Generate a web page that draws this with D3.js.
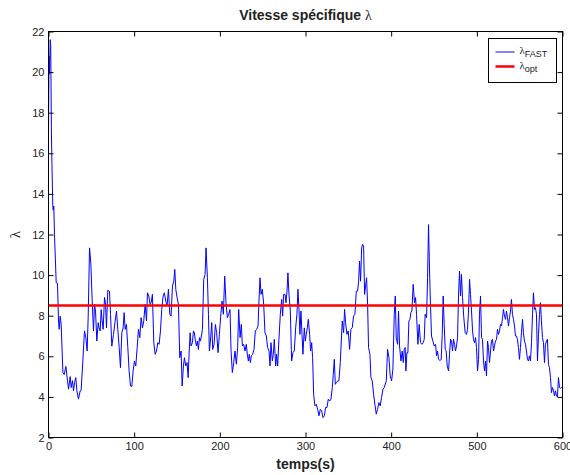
<!DOCTYPE html>
<html>
<head>
<meta charset="utf-8">
<script src="https://cdn.jsdelivr.net/npm/d3@7"></script>
<style>
  body { margin: 0; background: #fff; }
  text { font-family: "Liberation Sans", Arial, sans-serif; }
  .sym { font-family: "Liberation Serif", "DejaVu Serif", serif; }
</style>
</head>
<body>
<div id="chart"></div>
<script>
// temps (s) and lambda
const tFast = [0,0.6,1.2,2,2.6,3.4,4,5,5.5,6.2,7,8,9,10.5,11.7,12.5,13.6,14.8,16.8,18.3,20.3,22.2,23.4,25.3,26.5,28,29.2,30.4,31.9,33.1,35,37,38.1,40.1,42,43.6,45.1,46.3,47.9,49.4,51,52.5,53.7,54.9,56.4,58,59.1,60.3,61.5,62.6,63.8,65.4,66.5,67.7,69.2,71.2,72.4,73.9,75.9,77.8,79.4,80.9,82.5,84,85.6,87.1,88.3,89.5,91,92.6,94.1,95.7,97.2,98.8,100.3,101.9,103.5,105,106.6,108.1,109.7,111.2,112.8,114.4,115.5,117.1,118.6,119.8,121.3,122.9,124.5,126,127.6,129.1,130.7,132.2,133.8,135.3,136.9,138.4,140,141.6,143.1,144.7,146.2,147.4,148.6,150.1,151.7,153.2,154.8,156,157.5,158.7,160.2,161.8,163,164.1,165.3,166.4,168,169.2,170.3,171.5,172.7,173.8,175,176.2,177.3,178.5,179.7,181.2,182.8,183.9,185.5,186.7,187.8,189,190.6,191.7,193.3,194.8,196.3,197.9,199.5,201,202.6,204.1,205.7,207.2,208.8,210.3,211.9,213.1,214.6,216.2,217.7,219.3,220.8,222,223.6,225.1,226.3,227.8,229.4,230.9,232.1,233.3,234.4,235.6,236.8,238.3,239.9,241.4,243,244.6,245.7,246.9,248.1,249.6,251.2,252.7,254.3,255.8,257.4,258.6,259.7,261.3,262.4,263.6,265.2,266.3,267.5,269,270.6,272.2,273.3,274.5,276.1,277.2,278.4,279.5,280.7,282.3,283.8,285.4,286.9,288.5,290,291.2,292.4,293.5,294.7,295.9,297,298.6,299.8,300.9,302.1,303.3,304.8,306,307.2,308.3,309.5,311,312.6,314.2,315.7,317.3,318.8,320.4,322,323.5,325.1,326.6,328.2,329.7,331.3,332.4,333.6,334.8,335.9,337.5,339,340.6,341.8,342.9,344.5,345.6,346.8,348.4,349.9,351.5,353,354.6,356.1,357.7,359.3,360.8,362,363.1,364.3,365.5,366.6,367.8,369,370.1,371.3,372.5,373.6,375.2,376.4,377.9,379.5,381,382.6,384.1,385.7,387.2,388.8,390.4,391.9,394.3,395.8,397.4,398.9,400.5,402,403.6,404.8,405.9,407.5,408.6,409.8,411.4,412.9,414.1,415.3,416.4,417.2,418.4,419.5,420.7,421.9,423,424.2,425.7,427.3,428.5,429.6,431.2,432.7,434.3,435.9,437.4,438.6,439.7,441.3,442.5,443.6,444.8,446,447.1,448.7,450.2,451.8,453,454.1,455.3,456.9,458.4,459.6,460.7,461.9,463.1,464.2,465.4,467,468.1,469.3,470.5,471.6,472.8,474,475.1,476.3,477.5,478.6,479.8,481,482.1,483.3,484.8,486.4,488,489.1,490.3,491.5,492.6,493.8,495,496.1,497.3,498.5,499.6,500.8,502,503.1,504.3,505.5,506.6,507.8,509,510.1,511.3,512.5,513.6,514.8,516,517.1,518.3,519.5,520.6,521.8,523,524.1,525.3,526.5,527.6,528.8,530,531.1,532.3,533.5,534.6,535.8,537,538.1,539.3,540.4,541.6,542.8,544,545.1,546.3,547.4,548.6,549.8,550.9,552.1,553.3,554.4,555.6,556.8,557.9,559.1,560.3,561.4,562.6,563.8,565,566.1,567.3,568.5,569.6,570.8,572,573.1,574.3,575.4,576.6,577.8,579,580.1,581.3,582.4,583.6,584.8,586,587.1,588.3,589.5,590.6,591.8,593,594.1,595.3,596.5,597.6,598.8,600]
const lambdaFast = [17,20.8,19.9,21.6,21.3,17,15.5,13.4,13.2,13.4,12,10.8,9.62,9.6,7.74,7.33,7.98,7.57,5.2,5.1,5.5,4.8,4.38,5,4.46,4.8,4.3,4.7,4.95,4.3,3.89,4.3,4.33,5.77,7.25,6.92,6.26,7.9,11.34,10.6,8.72,7.25,8.56,8.23,6.75,7.66,7.4,7.25,8.3,7.74,7.33,8.9,8.64,7.4,9.25,9.2,8.06,6.5,7.08,7.74,8.23,7.33,6.43,5.44,7.16,7.4,8.15,7.33,7.57,6.43,5.28,4.54,4.5,5.28,5.77,5.52,6.43,7.33,6.92,7.9,7.4,7.74,8.56,7.74,9.13,8.97,8.56,8.64,9.05,6.67,6.1,6.26,6.67,6.59,7.25,8.31,8.97,9.13,8.72,8.48,9.3,8.07,7.98,9.46,9.7,10.28,9.3,8.89,8.56,5.93,6.26,4.54,5.52,5.93,5.52,5.69,4.95,6.1,7.16,6.51,6.67,7.25,7.16,6.75,6.51,6.75,6.34,6.92,6.75,7,7.33,9.79,10.03,11.34,9.87,8.07,6.26,6.75,7.66,6.34,6.59,7.57,7.16,6.18,7.08,7.98,8.72,8.07,9.95,8.64,7.9,8.07,8.31,6.26,5.2,5.69,6.26,5.61,6.43,8.31,6.92,7.57,6.51,6.59,6.26,6.59,6.1,5.77,6.1,5.69,6.02,6.1,6.34,7.25,7.33,7.49,8.72,9.87,9.05,9.3,8.56,7.16,7,6.43,6.26,5.52,6.67,5.77,6.1,6.84,5.52,6.1,5.52,6.84,8.07,8.8,7.98,9.05,9.05,8.64,9.21,10.11,9.05,8.23,5.77,6.18,6.26,7.4,8.07,9.3,8.31,7.08,8.23,7.08,6.1,7.4,6.75,7.08,7.4,7.82,7.08,6.26,6.67,5.93,4.13,3.56,3.64,3.39,3.07,3.39,3.31,2.98,3.07,3.48,3.48,3.89,3.8,3.89,4.46,5.11,5.85,4.62,4.7,4.79,4.79,5.69,6.75,7.74,7.16,8.31,7.66,7.08,7.25,6.34,7.33,7.41,7.98,8.07,9.21,9.21,9.7,10.69,9.7,11.34,11.51,11.43,9.05,9.46,9.87,8.56,6.43,6.1,4.95,4.79,4.13,3.64,3.15,3.39,3.72,3.56,3.97,4.38,4.46,4.79,6.34,5.93,5.03,4.79,5.36,8.07,8.97,6.92,6.59,8.23,6.51,5.77,6.26,5.69,6.34,6.43,5.28,6.18,6.18,7.74,7.82,8.15,8.23,9.54,8.64,8.89,8.07,6.59,7.57,6.67,6.59,6.67,6.84,8.07,7.9,9.87,12.49,10.2,8.39,7,6.75,6.51,6.59,6.02,6.26,5.85,5.8,5.84,7.08,8.97,7.57,6.34,6.26,5.52,5.28,6.1,6.84,6.75,6.26,6.84,6.59,6.26,6.51,6.92,8.97,10.2,8.97,10.03,8.89,7.9,7.16,7.08,7.33,8.23,9.79,9.05,8.23,7.25,6.84,6.67,6.92,6.43,5.28,5.85,8.07,8.97,6.92,6.84,5.77,5.28,5.77,5.03,6.75,6.43,5.69,6.26,6.75,6.84,6.26,6.51,6.75,6.84,7.33,7.08,7.25,7.57,7.49,7.9,8.31,7.98,7.82,8.23,7.9,7.49,7.9,8.23,8.8,8.07,7.82,7.49,7,7,6.84,6.43,5.85,6.43,7.16,7.82,7.16,6.75,6.59,6.26,5.85,5.77,6.02,5.77,6.67,8.07,9.13,8.31,8.39,8.07,5.77,7.08,8.07,8.64,7.74,6.92,6.67,5.69,6.59,6.75,6.84,5.61,5.44,4.95,4.21,4.46,4.3,4.05,4.3,4.05,4,4.95,4.46,4.43,4.46,4.46]
const lambdaOpt = 8.5
const xTicks = [0,100,200,300,400,500,600]
const yTicks = [2,4,6,8,10,12,14,16,18,20,22]

const W = 570, H = 475
const svg = d3.select("#chart").append("svg")
  .attr("width", W).attr("height", H)

const x = d3.scaleLinear().domain([0,600]).range([48.5,562.5])
const y = d3.scaleLinear().domain([2,22]).range([437.5,31.5])

svg.append("rect").attr("width", W).attr("height", H).attr("fill", "#fff")

const plot = svg.append("g")
// clip to the axes box
svg.append("clipPath").attr("id","clip").append("rect")
  .attr("x", x(0)).attr("y", y(22)).attr("width", x(600)-x(0)).attr("height", y(2)-y(22))

const fastData = tFast.map((t,i) => ({t:t, v:lambdaFast[i]}))
plot.append("path")
  .datum(fastData)
  .attr("clip-path","url(#clip)")
  .attr("fill","none")
  .attr("stroke","#0000ff")
  .attr("stroke-width",1)
  .attr("stroke-linejoin","round")
  .attr("d", d3.line().x(d => x(d.t)).y(d => y(d.v)))

plot.append("line")
  .attr("x1", x(0)).attr("x2", x(600))
  .attr("y1", y(lambdaOpt)).attr("y2", y(lambdaOpt))
  .attr("stroke","#ff0000").attr("stroke-width",2.5)

// axes, ticks pointing inward on all four sides
const tickFont = g => g.selectAll("text")
  .attr("font-size","11px").attr("fill","#222")
  .attr("font-family","Liberation Sans, Arial, sans-serif")

const xAxis = svg.append("g").attr("transform",`translate(0,${y(2)})`)
  .call(d3.axisBottom(x).tickValues(xTicks).tickSize(-5).tickPadding(5))
xAxis.call(tickFont)
xAxis.select(".domain").remove()

const xTop = svg.append("g").attr("transform",`translate(0,${y(22)})`)
  .call(d3.axisTop(x).tickValues(xTicks).tickSize(-5).tickFormat(""))
xTop.select(".domain").remove()

const yAxis = svg.append("g").attr("transform",`translate(${x(0)},0)`)
  .call(d3.axisLeft(y).tickValues(yTicks).tickSize(-5).tickPadding(4))
yAxis.call(tickFont)
yAxis.select(".domain").remove()

const yRight = svg.append("g").attr("transform",`translate(${x(600)},0)`)
  .call(d3.axisRight(y).tickValues(yTicks).tickSize(-5).tickFormat(""))
yRight.select(".domain").remove()

svg.append("rect")
  .attr("x", x(0)).attr("y", y(22))
  .attr("width", x(600)-x(0)).attr("height", y(2)-y(22))
  .attr("fill","none").attr("stroke","#000").attr("stroke-width",1)

// titles
const title = svg.append("text")
  .attr("x", (x(0)+x(600))/2).attr("y", 20)
  .attr("text-anchor","middle").attr("font-size","14px").attr("font-weight","bold")
  .attr("fill","#222")
title.append("tspan").text("Vitesse spécifique ")
title.append("tspan").attr("class","sym").attr("font-weight","normal").text("λ")

svg.append("text")
  .attr("x", (x(0)+x(600))/2).attr("y", 469)
  .attr("text-anchor","middle").attr("font-size","14px").attr("font-weight","bold")
  .attr("fill","#222")
  .text("temps(s)")

svg.append("text")
  .attr("class","sym")
  .attr("transform", `translate(20,${(y(2)+y(22))/2}) rotate(-90)`)
  .attr("text-anchor","middle").attr("font-size","15px")
  .attr("fill","#222")
  .text("λ")

// legend
const leg = svg.append("g").attr("transform","translate(488.5,38.5)")
leg.append("rect").attr("width",68).attr("height",44)
  .attr("fill","#fff").attr("stroke","#000").attr("stroke-width",1)
const items = [
  {name:"FAST", color:"#0000ff", w:1, yy:13.5},
  {name:"opt", color:"#ff0000", w:2.5, yy:28}
]
items.forEach(it => {
  leg.append("line").attr("x1",7).attr("x2",26)
    .attr("y1",it.yy).attr("y2",it.yy)
    .attr("stroke",it.color).attr("stroke-width",it.w)
  const tx = leg.append("text").attr("x",31).attr("y",it.yy+2)
    .attr("font-size","11px").attr("fill","#222")
  tx.append("tspan").attr("class","sym").text("λ")
  tx.append("tspan").attr("dy",3).attr("font-size","9px").text(it.name)
})
</script>
</body>
</html>
